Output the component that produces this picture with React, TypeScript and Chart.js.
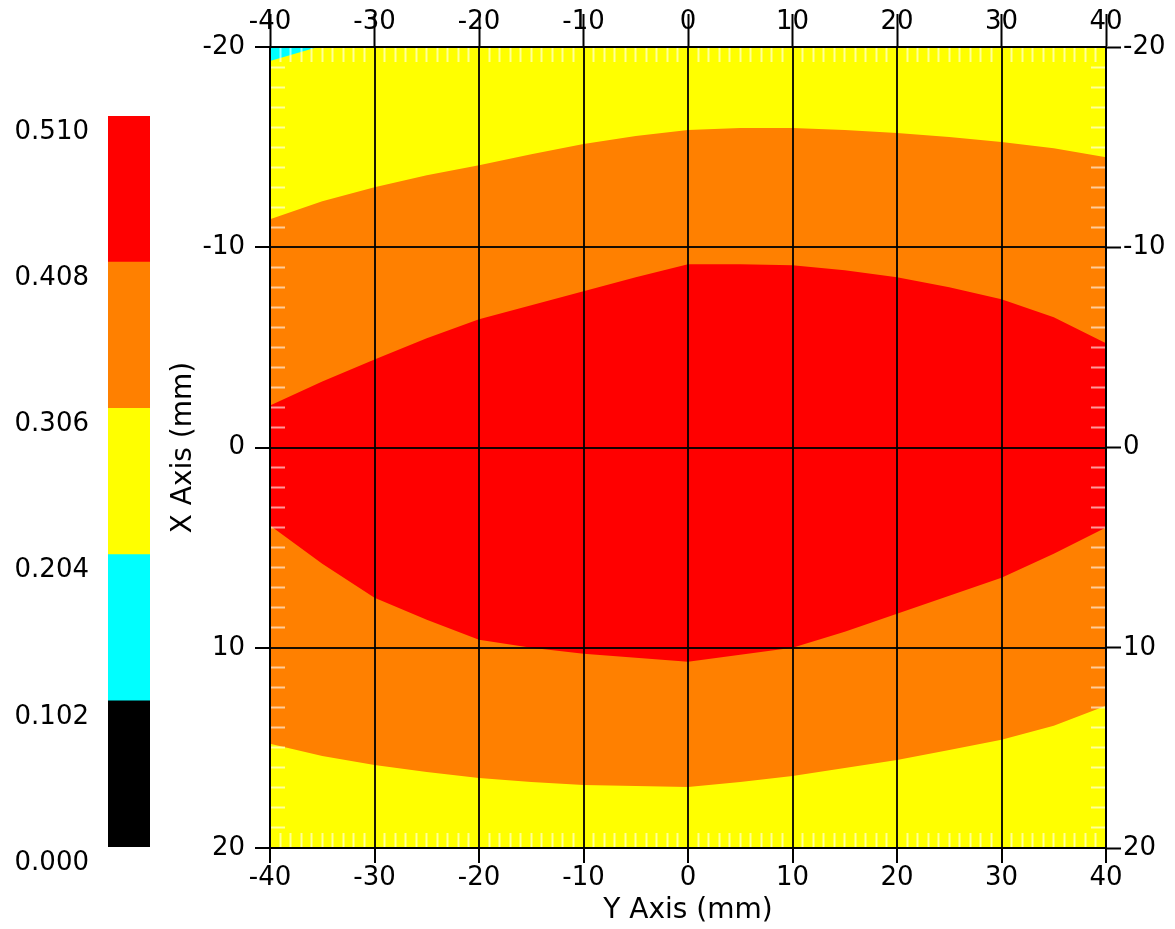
import React, { useEffect, useRef } from 'react';
import { Chart, registerables } from 'chart.js';

Chart.register(...registerables);

// ---- data ----
const xStations = [-40, -35, -30, -25, -20, -15, -10, -5, 0, 5, 10, 15, 20, 25, 30, 35, 40];
// boundary yellow/orange (upper)
const orangeTop = [-11.4, -12.3, -13.0, -13.6, -14.1, -14.65, -15.15, -15.55, -15.85, -15.95, -15.95, -15.85, -15.7, -15.5, -15.25, -14.95, -14.5];
// boundary orange/red (upper)
const redTop = [-2.1, -3.3, -4.4, -5.45, -6.4, -7.1, -7.8, -8.5, -9.15, -9.15, -9.1, -8.85, -8.5, -8.0, -7.4, -6.5, -5.2];
// boundary red/orange (lower)
const redBottom = [3.9, 5.8, 7.5, 8.6, 9.6, 10.0, 10.3, 10.5, 10.7, 10.35, 10.0, 9.2, 8.3, 7.4, 6.5, 5.3, 4.0];
// boundary orange/yellow (lower)
const orangeBottom = [14.8, 15.4, 15.85, 16.2, 16.5, 16.7, 16.85, 16.9, 16.95, 16.7, 16.4, 16.0, 15.6, 15.1, 14.6, 13.9, 12.9];
// cyan corner (top-left)
const cyanX = [-40, -35.4];
const cyanY = [-19.3, -20];
// yellow background band
const yellowX = [-40, 40];
const yellowY = [-20, -20];

const xTicks = [-40, -30, -20, -10, 0, 10, 20, 30, 40];
const yTicks = [-20, -10, 0, 10, 20];

const colorbarLevels = [0, 0.102, 0.204, 0.306, 0.408, 0.51];
const colorbarTickLabels = ['0.000', '0.102', '0.204', '0.306', '0.408', '0.510'];
const colorbarColors = ['#000000', '#00FFFF', '#FFFF00', '#FF8000', '#FF0000'];

const FONT = 'DejaVu Sans';
const tickFont = { family: FONT, size: 26 };
const titleFont = { family: FONT, size: 28 };

const minorColor = (ctx: any) =>
  ctx.tick && Math.round(ctx.tick.value) % 10 === 0 ? 'rgba(0,0,0,0)' : 'rgba(255,255,255,0.6)';

const pts = (xs: number[], ys: number[]) => xs.map((x, i) => ({ x, y: ys[i] }));

const noLine = { borderWidth: 0, borderColor: 'rgba(0,0,0,0)', pointRadius: 0 };

const majorGrid = { z: 1, color: 'rgba(0,0,0,0.9)', lineWidth: 2, tickLength: 15, tickColor: '#000', tickWidth: 2 };
const minorGrid = { z: 1, drawOnChartArea: false, tickLength: -15, color: minorColor, tickColor: minorColor, tickWidth: 2 };
const axisBorder = { color: '#000', width: 2, z: 2 };

export default function App() {
  const mainRef = useRef<HTMLCanvasElement>(null);
  const cbRef = useRef<HTMLCanvasElement>(null);

  useEffect(() => {
    Chart.defaults.font.family = FONT;
    const main = new Chart(mainRef.current as HTMLCanvasElement, {
      type: 'line',
      data: {
        datasets: [
          { label: 'red', data: pts(xStations, redTop), fill: '+1', backgroundColor: '#FF0000', ...noLine },
          { label: 'redB', data: pts(xStations, redBottom), fill: false, ...noLine },
          { label: 'orange', data: pts(xStations, orangeTop), fill: '+1', backgroundColor: '#FF8000', ...noLine },
          { label: 'orangeB', data: pts(xStations, orangeBottom), fill: false, ...noLine },
          { label: 'cyan', data: pts(cyanX, cyanY), fill: { value: -20 }, backgroundColor: '#00FFFF', ...noLine },
          { label: 'yellow', data: pts(yellowX, yellowY), fill: { value: 20 }, backgroundColor: '#FFFF00', ...noLine },
        ] as any,
      },
      options: {
        animation: false,
        responsive: false,
        events: [],
        layout: { padding: 0 },
        plugins: { legend: { display: false }, tooltip: { enabled: false } },
        scales: {
          x: {
            type: 'linear', position: 'bottom', min: -40, max: 40,
            afterBuildTicks: (s: any) => { s.ticks = xTicks.map((v) => ({ value: v })); },
            ticks: { font: tickFont, color: '#000', padding: 0, maxRotation: 0, autoSkip: false },
            grid: majorGrid,
            border: axisBorder,
            title: { display: true, text: 'Y Axis (mm)', font: titleFont, color: '#000', padding: { top: 0, bottom: 1 } },
            afterFit: (s: any) => { s.height = 81; },
          },
          xTop: {
            type: 'linear', position: 'top', min: -40, max: 40,
            afterBuildTicks: (s: any) => { s.ticks = xTicks.map((v) => ({ value: v })); },
            ticks: { font: tickFont, color: '#000', padding: -24, maxRotation: 0, autoSkip: false },
            grid: { z: 1, drawOnChartArea: false, color: '#000', tickLength: 33, tickColor: '#000', tickWidth: 2 },
            border: axisBorder,
            afterFit: (s: any) => { s.height = 47; },
          },
          y: {
            type: 'linear', position: 'left', min: -20, max: 20, reverse: true,
            afterBuildTicks: (s: any) => { s.ticks = yTicks.map((v) => ({ value: v })); },
            ticks: { font: tickFont, color: '#000', padding: 10, autoSkip: false },
            grid: majorGrid,
            border: axisBorder,
            title: { display: true, text: 'X Axis (mm)', font: titleFont, color: '#000', padding: { top: 7, bottom: 0 } },
            afterFit: (s: any) => { s.width = 110; },
          },
          yRight: {
            type: 'linear', position: 'right', min: -20, max: 20, reverse: true,
            afterBuildTicks: (s: any) => { s.ticks = yTicks.map((v) => ({ value: v })); },
            ticks: { font: tickFont, color: '#000', padding: 2, autoSkip: false },
            grid: { z: 1, drawOnChartArea: false, color: '#000', tickLength: 15, tickColor: '#000', tickWidth: 2 },
            border: axisBorder,
            afterFit: (s: any) => { s.width = 69; },
          },
          xMinB: {
            type: 'linear', position: 'bottom', min: -40, max: 40, weight: -1,
            ticks: { display: false, stepSize: 1 },
            grid: minorGrid,
            border: { display: false },
            afterFit: (s: any) => { s.height = 0; },
          },
          xMinT: {
            type: 'linear', position: 'top', min: -40, max: 40, weight: -1,
            ticks: { display: false, stepSize: 1 },
            grid: minorGrid,
            border: { display: false },
            afterFit: (s: any) => { s.height = 0; },
          },
          yMinL: {
            type: 'linear', position: 'left', min: -20, max: 20, reverse: true, weight: -1,
            ticks: { display: false, stepSize: 1 },
            grid: minorGrid,
            border: { display: false },
            afterFit: (s: any) => { s.width = 0; },
          },
          yMinR: {
            type: 'linear', position: 'right', min: -20, max: 20, reverse: true, weight: -1,
            ticks: { display: false, stepSize: 1 },
            grid: minorGrid,
            border: { display: false },
            afterFit: (s: any) => { s.width = 0; },
          },
        } as any,
      },
    });

    const cb = new Chart(cbRef.current as HTMLCanvasElement, {
      type: 'bar',
      data: {
        labels: [''],
        datasets: colorbarColors.map((c, i) => ({
          label: colorbarTickLabels[i],
          data: [colorbarLevels[i + 1] - colorbarLevels[i]],
          backgroundColor: c,
          borderWidth: 0,
          barPercentage: 1,
          categoryPercentage: 1,
        })),
      },
      options: {
        animation: false,
        responsive: false,
        events: [],
        layout: { padding: { top: 116, bottom: 82, left: 0, right: 10 } },
        plugins: { legend: { display: false }, tooltip: { enabled: false } },
        scales: {
          x: { stacked: true, display: false },
          y: {
            stacked: true, min: 0, max: 0.51,
            afterBuildTicks: (s: any) => { s.ticks = colorbarLevels.map((v) => ({ value: v })); },
            ticks: {
              font: tickFont, color: '#000', padding: 19, labelOffset: 16, autoSkip: false,
              callback: (_v: any, i: number) => colorbarTickLabels[i],
            },
            grid: { display: false, drawTicks: false },
            border: { display: false },
            afterFit: (s: any) => { s.width = 108; },
          },
        } as any,
      },
    });

    return () => {
      main.destroy();
      cb.destroy();
    };
  }, []);

  return (
    <div style={{ position: 'absolute', left: 0, top: 0, width: 1175, height: 929, background: '#fff' }}>
      <canvas ref={cbRef} width={160} height={929} style={{ position: 'absolute', left: 0, top: 0, width: 160, height: 929 }} />
      <canvas ref={mainRef} width={1015} height={929} style={{ position: 'absolute', left: 160, top: 0, width: 1015, height: 929 }} />
    </div>
  );
}
